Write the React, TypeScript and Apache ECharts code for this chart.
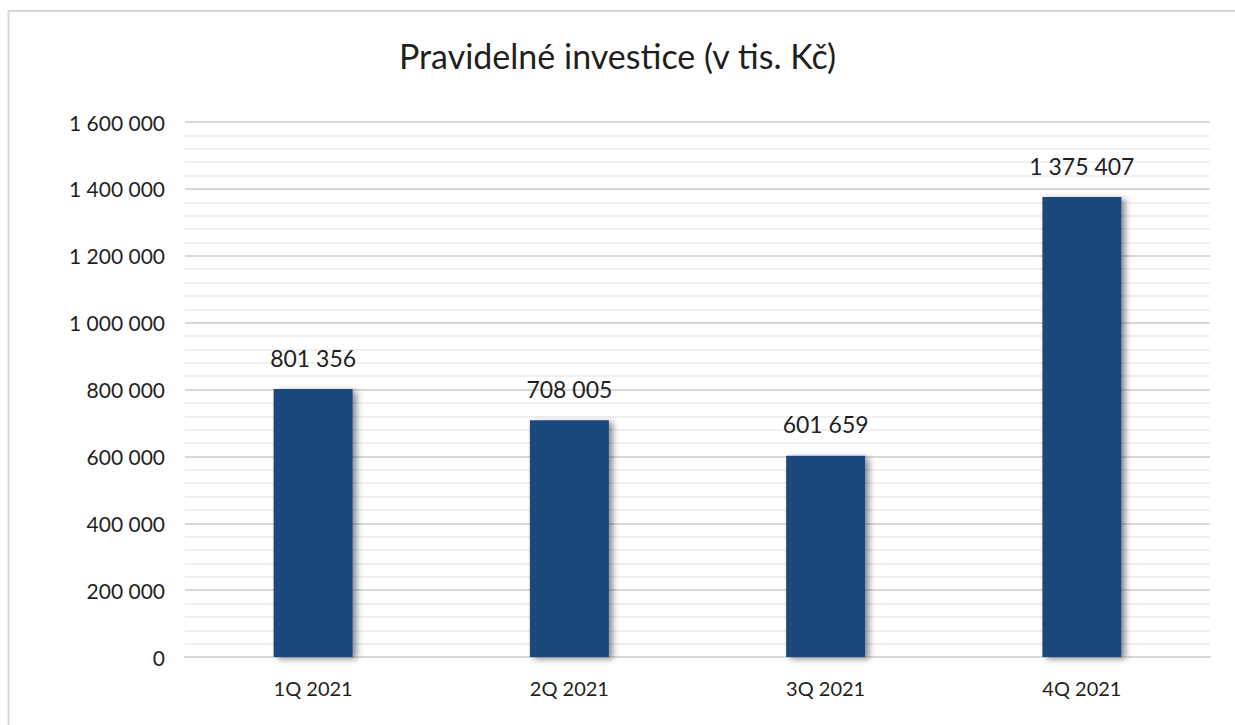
import React, { useEffect, useRef } from "react";
import * as echarts from "echarts";

const title = "Pravidelné investice (v tis. Kč)";
const categories = ["1Q 2021", "2Q 2021", "3Q 2021", "4Q 2021"];
const values = [801356, 708005, 601659, 1375407];
const yMin = 0;
const yMax = 1600000;
const yInterval = 200000;

const fmt = (v: number) => String(v).replace(/\B(?=(\d{3})+(?!\d))/g, " ");
const FONT = "Lato, 'DejaVu Sans', sans-serif";

export default function App() {
  const ref = useRef<HTMLDivElement>(null);
  useEffect(() => {
    if (!ref.current) return;
    const chart = echarts.init(ref.current, null, { renderer: "svg" });
    chart.setOption({
      animation: false,
      backgroundColor: "#ffffff",
      title: {
        text: title,
        left: "center",
        top: 33,
        textStyle: { fontFamily: FONT, fontSize: 34, fontWeight: "normal", color: "#1f1f1f" },
      },
      graphic: [
        {
          type: "rect",
          shape: { x: 8.5, y: 11, width: 1260, height: 760 },
          style: { fill: "none", stroke: "#d9d9d9", lineWidth: 2 },
          silent: true,
          z: 0,
        },
      ],
      grid: { left: 185, right: 25, top: 122, bottom: 68 },
      xAxis: {
        type: "category",
        data: categories,
        axisLine: { show: true, lineStyle: { color: "#d9d9d9", width: 2 } },
        axisTick: { show: false },
        axisLabel: { fontFamily: FONT, fontSize: 20, color: "#1f1f1f", margin: 21 },
      },
      yAxis: {
        type: "value",
        min: yMin,
        max: yMax,
        interval: yInterval,
        axisLine: { show: false },
        axisTick: { show: false },
        axisLabel: {
          fontFamily: FONT,
          fontSize: 21,
          color: "#1f1f1f",
          margin: 20,
          formatter: (v: number) => fmt(v),
        },
        splitLine: { show: true, lineStyle: { color: "#d9d9d9", width: 2 } },
        minorTick: { show: false, splitNumber: 5 },
        minorSplitLine: { show: true, lineStyle: { color: "#f0f0f0", width: 2 } },
      },
      series: [
        {
          type: "bar",
          data: values,
          barWidth: 79,
          itemStyle: {
            color: "#1F497D",
            shadowColor: "rgba(0,0,0,0.45)",
            shadowBlur: 6,
            shadowOffsetX: 4,
            shadowOffsetY: 2,
          },
          label: {
            show: true,
            position: "top",
            distance: 20,
            fontFamily: FONT,
            fontSize: 23,
            color: "#1f1f1f",
            formatter: (p: any) => fmt(p.value),
          },
        },
      ],
    });
    return () => chart.dispose();
  }, []);
  return (
    <div
      ref={ref}
      style={{ position: "fixed", left: 0, top: 0, width: 1235, height: 725 }}
    />
  );
}
